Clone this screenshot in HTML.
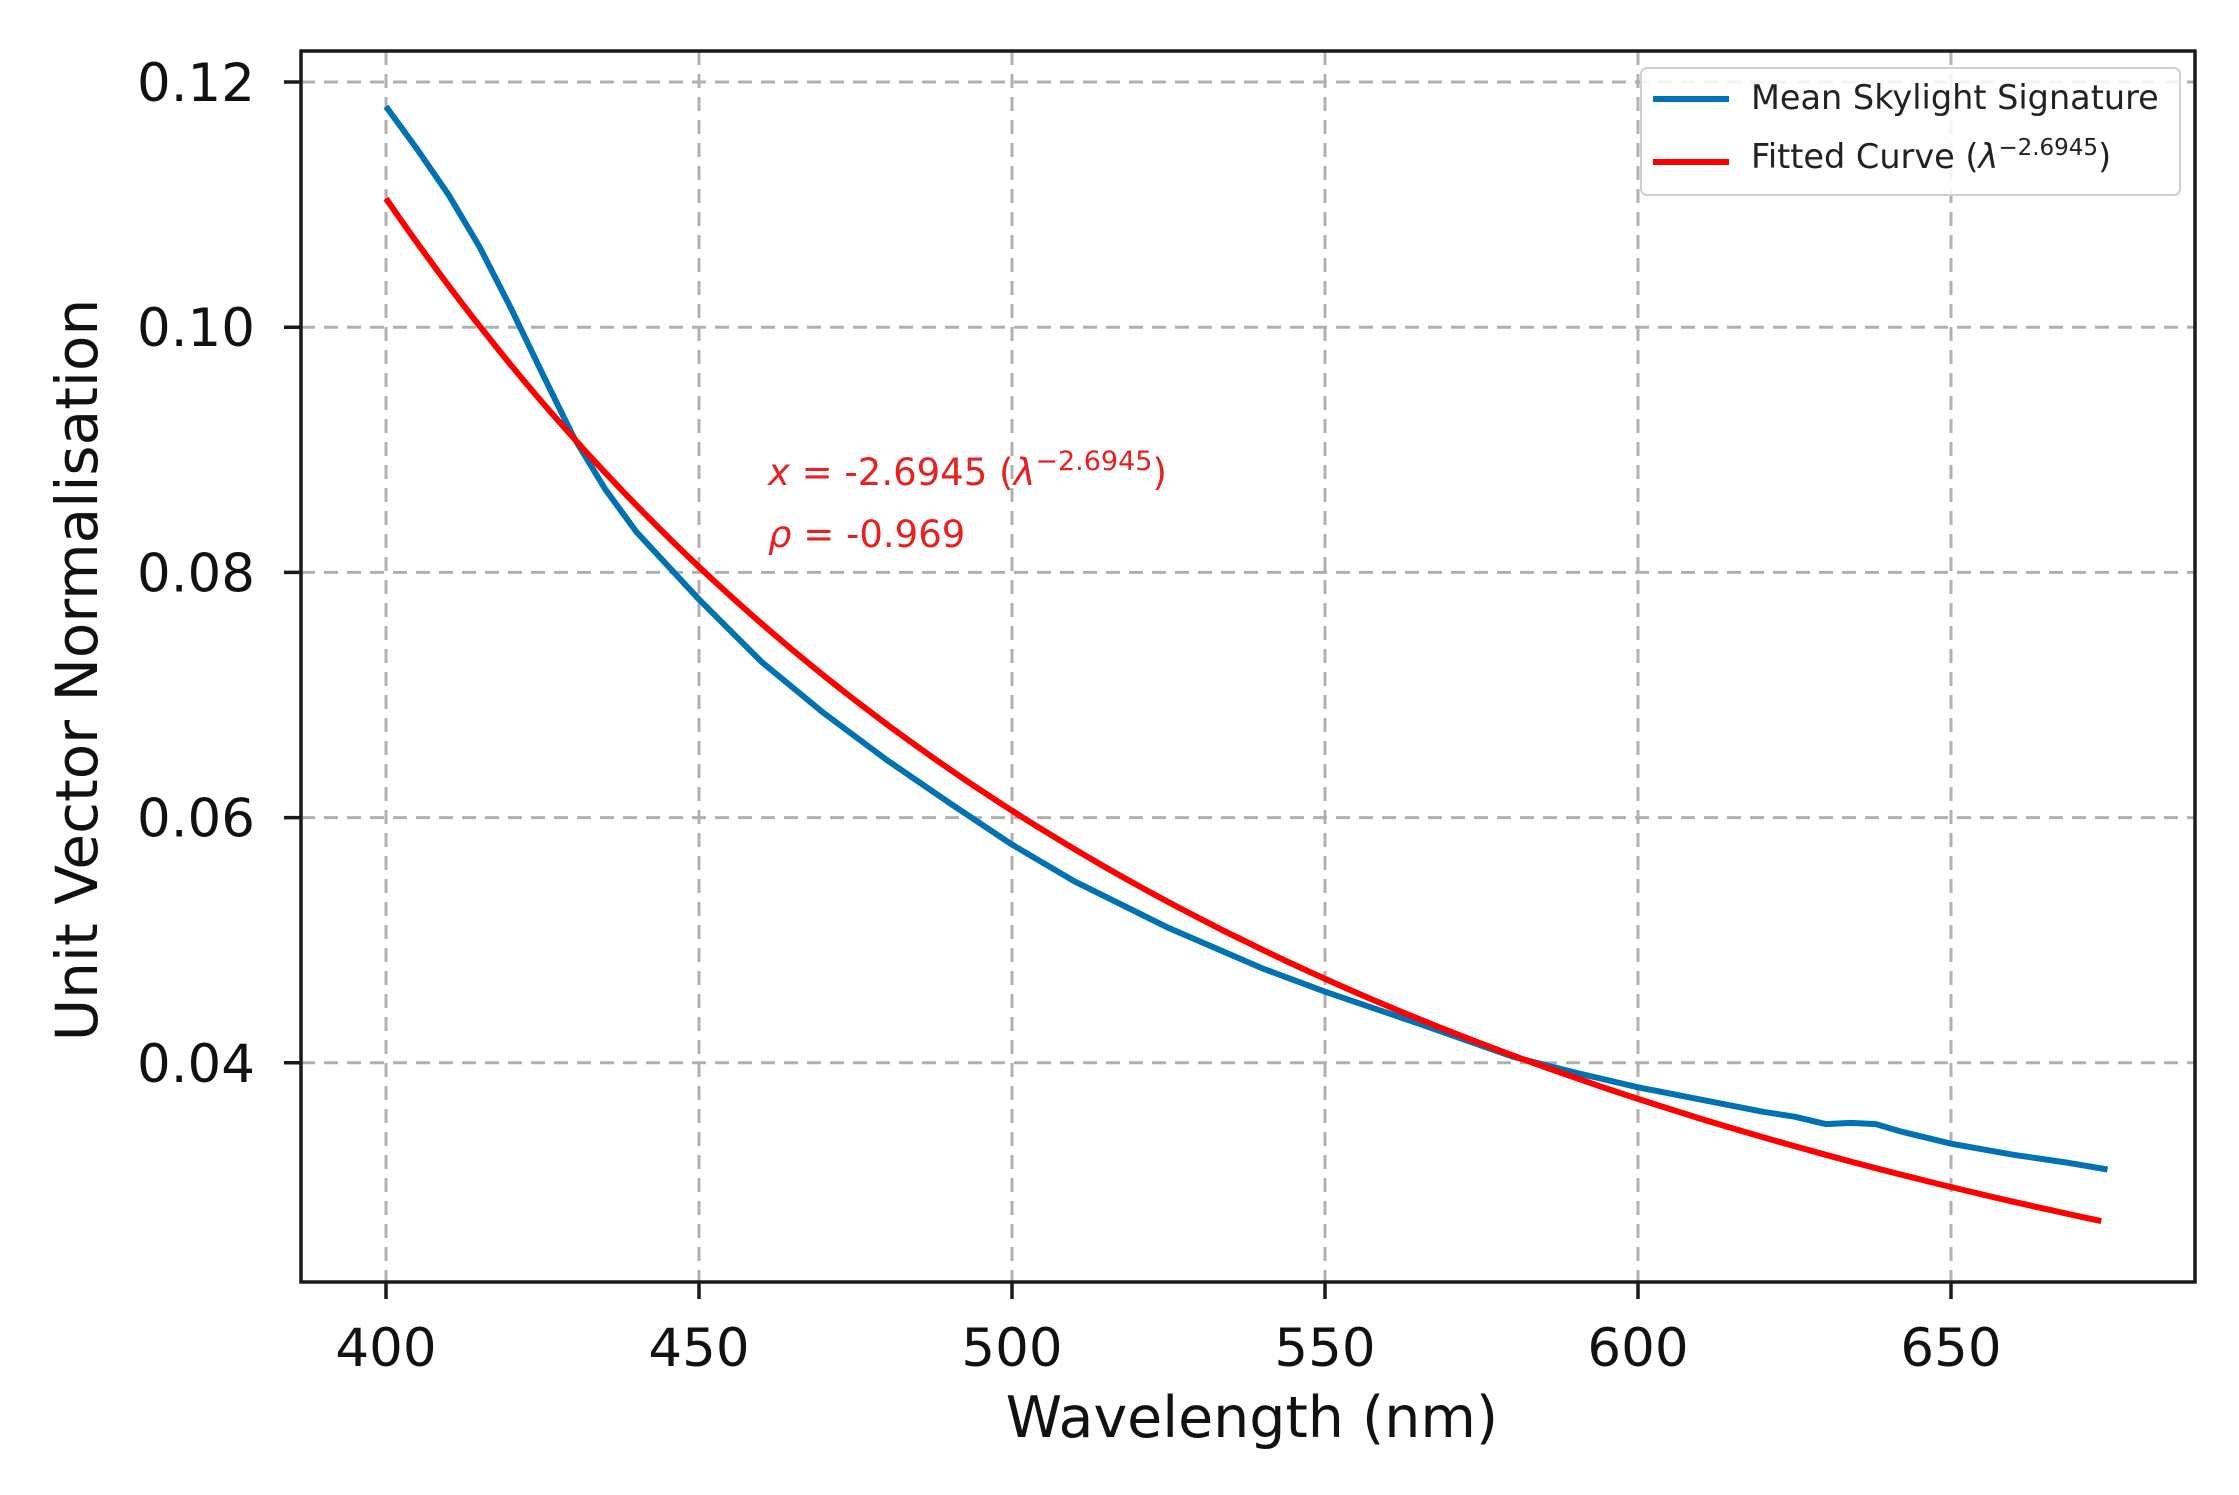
<!DOCTYPE html>
<html><head><meta charset="utf-8"><style>
html,body{margin:0;padding:0;background:#fff}
svg text{font-family:"DejaVu Sans","Liberation Sans",sans-serif}
</style></head><body>
<svg id="s" width="2239" height="1490" viewBox="0 0 2239 1490" xmlns="http://www.w3.org/2000/svg">
<rect width="2239" height="1490" fill="#fff"/>
<g id="grid" stroke="#b0b0b0" stroke-width="3" stroke-dasharray="14,9" fill="none"></g>
<path id="blue" fill="none" stroke="#0072b2" stroke-width="6" stroke-linejoin="round"/>
<path id="red" fill="none" stroke="#ff0000" stroke-width="6" stroke-linejoin="round"/>
<rect x="301" y="51" width="1894" height="1231" fill="none" stroke="#1a1a1a" stroke-width="3.5"/>
<g id="ticks" stroke="#1a1a1a" stroke-width="3.5"></g>
<g id="labels" font-size="53" fill="#111"></g>
<text x="1252" y="1437" font-size="57" text-anchor="middle" fill="#111">Wavelength (nm)</text>
<text transform="translate(97,670) rotate(-90)" font-size="58" text-anchor="middle" fill="#111">Unit Vector Normalisation</text>
<text x="768" y="485" font-size="37" fill="#e82020"><tspan font-style="italic">x</tspan> = -2.6945 (<tspan font-style="italic">λ</tspan><tspan dy="-15" font-size="27">−2.6945</tspan><tspan dy="15">)</tspan></text>
<text x="768" y="547" font-size="37" fill="#e82020"><tspan font-style="italic">ρ</tspan> = -0.969</text>
<rect x="1641" y="68" width="539" height="127" rx="6" fill="#fff" fill-opacity="0.85" stroke="#d0d0d0" stroke-width="2"/>
<line x1="1653" y1="99" x2="1729" y2="99" stroke="#0072b2" stroke-width="6"/>
<line x1="1653" y1="162" x2="1729" y2="162" stroke="#ff0000" stroke-width="6"/>
<text x="1751" y="109" font-size="33.5" fill="#222">Mean Skylight Signature</text>
<text x="1751" y="168" font-size="33.5" fill="#222">Fitted Curve (<tspan font-style="italic">λ</tspan><tspan dy="-13" font-size="23">−2.6945</tspan><tspan dy="13">)</tspan></text>
</svg>
<script>
var X=function(l){return 386+(l-400)*6.26;};
var Y=function(v){return 82+(0.12-v)*12260;};
var ns="http://www.w3.org/2000/svg";
var g=document.getElementById('grid'),t=document.getElementById('ticks'),lb=document.getElementById('labels');
function el(p,tag,a,txt){var e=document.createElementNS(ns,tag);for(var k in a)e.setAttribute(k,a[k]);if(txt)e.textContent=txt;p.appendChild(e);}
for(var l=400;l<=650;l+=50){var x=X(l);el(g,'line',{x1:x,y1:51,x2:x,y2:1282});el(t,'line',{x1:x,y1:1282,x2:x,y2:1299});el(lb,'text',{x:x,y:1366,'text-anchor':'middle'},String(l));}
[0.04,0.06,0.08,0.10,0.12].forEach(function(v){var y=Y(v);el(g,'line',{x1:301,y1:y,x2:2195,y2:y});el(t,'line',{x1:284,y1:y,x2:301,y2:y});el(lb,'text',{x:255,y:y+19,'text-anchor':'end'},v.toFixed(2));});
var d='';for(var l=400;l<=675;l+=2){var v=0.1105*Math.pow(400/l,2.6945);d+=(l==400?'M':'L')+X(l).toFixed(1)+','+Y(v).toFixed(1);}
document.getElementById('red').setAttribute('d',d);
var pts=[[400,0.118],[405,0.1145],[410,0.1108],[415,0.1065],[420,0.1015],[425,0.0962],[430,0.0910],[435,0.0868],[440,0.0833],[450,0.0778],[460,0.0727],[470,0.0685],[480,0.0647],[490,0.0612],[500,0.0578],[510,0.0548],[525,0.0510],[540,0.0477],[550,0.0458],[565,0.0432],[580,0.0405],[590,0.0392],[600,0.0380],[610,0.0370],[620,0.0360],[625,0.0356],[630,0.0350],[634,0.0351],[638,0.0350],[642,0.0344],[650,0.0334],[660,0.0325],[668,0.0319],[675,0.0313]];
var b='';pts.forEach(function(p,i){b+=(i?'L':'M')+X(p[0]).toFixed(1)+','+Y(p[1]).toFixed(1);});
document.getElementById('blue').setAttribute('d',b);
</script>
</body></html>
